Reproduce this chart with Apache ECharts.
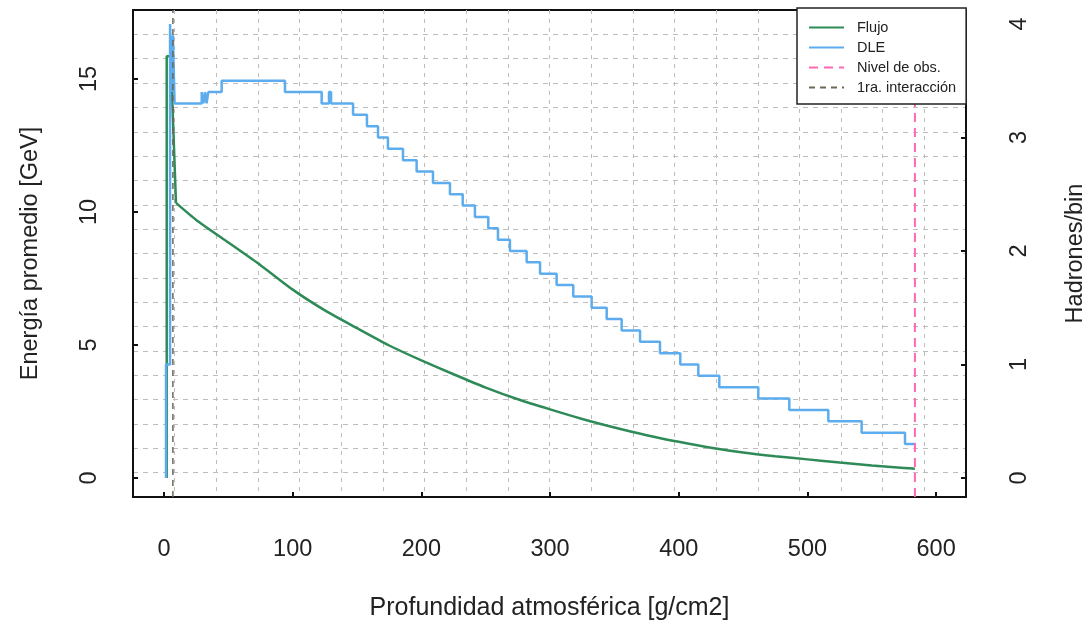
<!DOCTYPE html>
<html>
<head>
	<meta charset="utf-8">
	<title>Energía promedio y DLE</title>
	<script src="https://cdn.jsdelivr.net/npm/echarts@6/dist/echarts.min.js"></script>
	<style>html, body { margin: 0; background: #fff; }</style>
</head>
<body>
	<div id="res" style="width: 1091px;height: 622px;"></div>
	<script>
		// Flujo (eje izquierdo, GeV): primero el pico inicial, luego la curva
		var flujoPicoX = [2.1, 2.1, 5.2, 9.3];
		var flujoPicoY = [0, 15.85, 15.85, 10.34];
		var flujoX = [9.3, 25, 50, 75, 100, 125, 150, 175, 200, 225, 250, 275, 300, 325, 350, 375, 400, 425, 450, 475, 500, 525, 550, 575, 583.5];
		var flujoY = [10.34, 9.70, 8.85, 8.00, 7.08, 6.30, 5.63, 4.98, 4.42, 3.90, 3.40, 2.96, 2.58, 2.22, 1.90, 1.61, 1.36, 1.14, 0.96, 0.82, 0.70, 0.58, 0.47, 0.38, 0.35];

		// DLE (eje derecho, hadrones/bin), escalones
		var dleX = [1.55, 1.55, 4.7, 5.8, 6.9, 8.2, 29.3, 30.6, 31.9, 33.1, 34.4, 44.8, 94.0, 122.5, 128.2, 129.8, 146.9, 157.7, 166.3, 174.0, 185.7, 196.3, 209.0, 222.2, 232.1, 241.6, 252.0, 259.5, 268.8, 281.8, 292.2, 305.1, 318.0, 332.3, 344.0, 355.6, 369.9, 385.4, 401.2, 415.2, 431.5, 461.8, 485.9, 516.2, 542.1, 575.8, 584.0];
		var dleY = [0, 1.0, 4.0, 3.4, 3.9, 3.3, 3.4, 3.3, 3.4, 3.3, 3.4, 3.5, 3.4, 3.3, 3.4, 3.3, 3.2, 3.1, 3.0, 2.9, 2.8, 2.7, 2.6, 2.5, 2.4, 2.3, 2.2, 2.1, 2.0, 1.9, 1.8, 1.7, 1.6, 1.5, 1.4, 1.3, 1.2, 1.1, 1.0, 0.9, 0.8, 0.7, 0.6, 0.5, 0.4, 0.3, 0.3];

		var nivelObs = 583.5;
		var primeraInt = 6.9;

		var xTicks = [0, 100, 200, 300, 400, 500, 600];
		var leftTicks = [0, 5, 10, 15];
		var rightTicks = [0, 1, 2, 3, 4];

		var xMin = -24.1, xMax = 623.2;
		var lMin = -0.714, lMax = 17.59;
		var rMin = -0.167, rMax = 4.123;

		function pares(xs, ys) {
			var out = [];
			for(var i = 0; i < xs.length; i++) out.push([xs[i], ys[i]]);
			return out;
		}

		var fuente = '"Liberation Sans", Arial, Helvetica, sans-serif';
		var txt = '#222';
		var verde = '#2e8b57';

		function ejeGrid(pos, dash) {
			return {
				type: 'value', min: 0, max: 20, interval: 1, position: pos,
				axisLine: { show: false }, axisTick: { show: false }, axisLabel: { show: false },
				splitLine: { show: true, showMinLine: false, showMaxLine: false, lineStyle: { color: '#bdbdbd', width: 1, type: dash } }
			};
		}

		var myChart = echarts.init(document.getElementById('res'));
		var option = {
			animation: false,
			backgroundColor: '#fff',
			textStyle: { fontFamily: fuente },
			grid: {
				left: 133, right: 125, top: 10, bottom: 125,
				containLabel: false, outerBoundsMode: 'none',
				show: true, borderColor: '#111', borderWidth: 2, backgroundColor: 'transparent'
			},
			legend: {
				data: ['Flujo', 'DLE', 'Nivel de obs.', '1ra. interacción'],
				orient: 'vertical',
				left: 797, top: 8,
				padding: [12, 10, 9, 11],
				itemGap: 5,
				itemWidth: 35, itemHeight: 14,
				itemStyle: { opacity: 0 },
				backgroundColor: '#fff',
				borderColor: '#222', borderWidth: 1.5,
				textStyle: { fontSize: 14.5, color: txt, fontFamily: fuente, padding: [0, 0, 0, 8] },
				z: 10
			},
			xAxis: [{
				type: 'value', min: xMin, max: xMax,
				name: 'Profundidad atmosférica [g/cm2]',
				nameLocation: 'middle', nameGap: 99,
				nameTextStyle: { fontSize: 25, color: txt, fontFamily: fuente },
				axisLine: { show: true, onZero: false, lineStyle: { color: '#111', width: 2 } },
				axisTick: { show: true, inside: true, length: 5, customValues: xTicks, lineStyle: { color: '#111', width: 2 } },
				axisLabel: { customValues: xTicks, fontSize: 23.5, color: txt, margin: 41, fontFamily: fuente },
				splitLine: { show: false }
			}, ejeGrid('top', [4, 5])],
			yAxis: [{
				type: 'value', min: lMin, max: lMax, position: 'left',
				name: 'Energía promedio [GeV]',
				nameLocation: 'middle', nameGap: 90,
				nameTextStyle: { fontSize: 23.5, color: txt, fontFamily: fuente },
				axisLine: { show: true, onZero: false, lineStyle: { color: '#111', width: 2 } },
				axisTick: { show: true, inside: true, length: 5, customValues: leftTicks, lineStyle: { color: '#111', width: 2 } },
				axisLabel: { customValues: leftTicks, rotate: 90, fontSize: 23.5, color: txt, margin: 31, fontFamily: fuente },
				splitLine: { show: false }
			}, {
				type: 'value', min: rMin, max: rMax, position: 'right',
				name: 'Hadrones/bin',
				nameLocation: 'middle', nameGap: 98,
				nameRotate: 90,
				nameTextStyle: { fontSize: 23.5, color: txt, fontFamily: fuente },
				axisLine: { show: true, onZero: false, lineStyle: { color: '#111', width: 2 } },
				axisTick: { show: true, inside: true, length: 5, customValues: rightTicks, lineStyle: { color: '#111', width: 2 } },
				axisLabel: { customValues: rightTicks, rotate: 90, fontSize: 23.5, color: txt, margin: 42, fontFamily: fuente },
				splitLine: { show: false }
			}, ejeGrid('left', [5, 5])],
			series: [{
				name: 'Flujo', type: 'line', xAxisIndex: 0, yAxisIndex: 0,
				data: pares(flujoPicoX, flujoPicoY),
				symbol: 'none', showSymbol: false,
				color: verde,
				lineStyle: { color: verde, width: 2.5 },
				z: 3
			}, {
				name: 'Flujo', type: 'line', xAxisIndex: 0, yAxisIndex: 0,
				data: pares(flujoX, flujoY),
				smooth: 0.2,
				symbol: 'none', showSymbol: false,
				color: verde,
				lineStyle: { color: verde, width: 2.5 },
				z: 3
			}, {
				name: 'DLE', type: 'line', xAxisIndex: 0, yAxisIndex: 1,
				step: 'end',
				data: pares(dleX, dleY),
				symbol: 'none', showSymbol: false,
				color: '#5cacee',
				lineStyle: { color: '#5cacee', width: 2.5 },
				z: 4
			}, {
				name: 'Nivel de obs.', type: 'line', xAxisIndex: 0, yAxisIndex: 0,
				data: [[nivelObs, lMin], [nivelObs, lMax]],
				symbol: 'none', showSymbol: false,
				color: '#ff69b4',
				lineStyle: { color: '#ff69b4', width: 2, type: [9, 6] },
				z: 5
			}, {
				name: '1ra. interacción', type: 'line', xAxisIndex: 0, yAxisIndex: 0,
				data: [[primeraInt, lMin], [primeraInt, lMax]],
				symbol: 'none', showSymbol: false,
				color: '#6e6656',
				lineStyle: { color: '#6e6656', width: 1.5, type: [6, 5] },
				z: 6
			}]
		};
		myChart.setOption(option);
	</script>
</body>
</html>
